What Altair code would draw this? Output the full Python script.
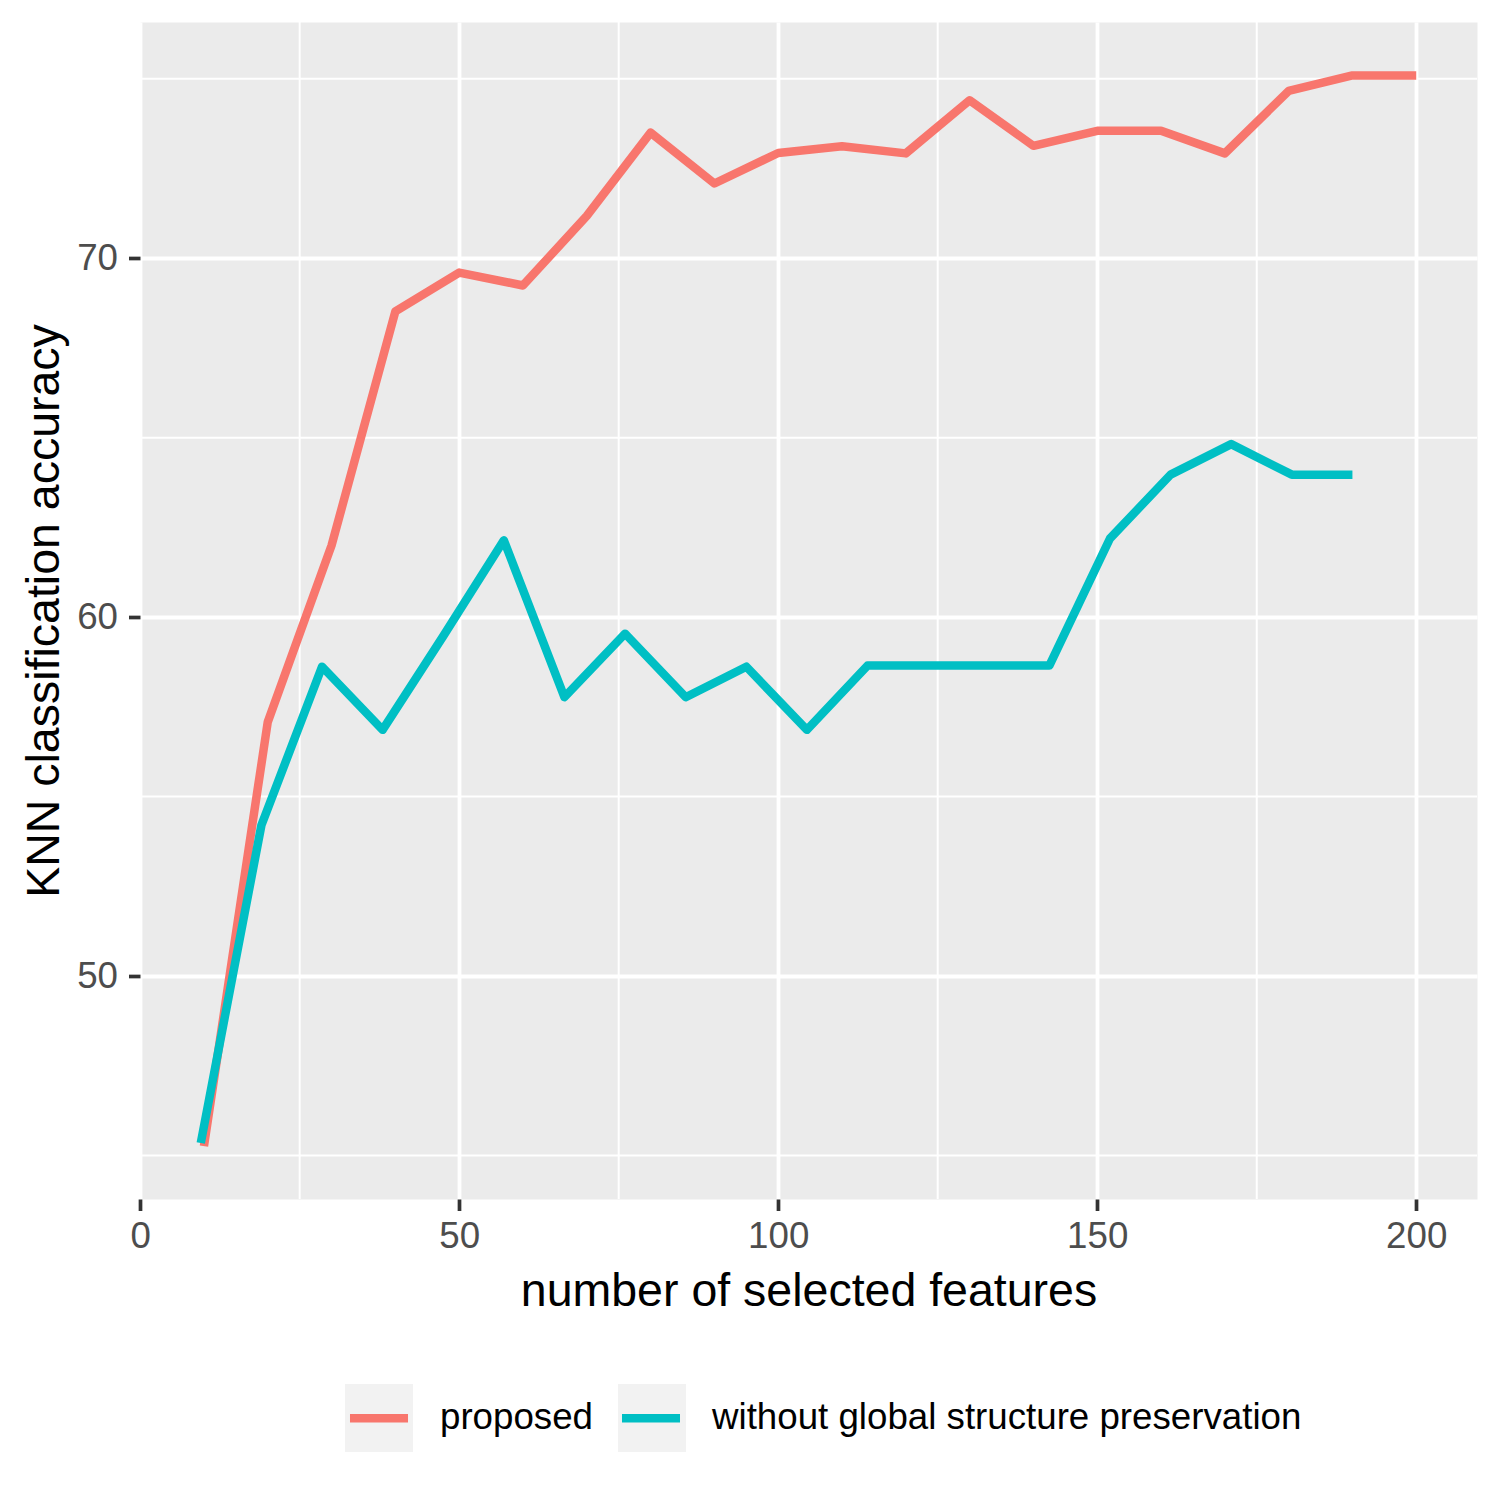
import altair as alt
import pandas as pd

# ---- data ----
series_names = ["proposed", "without global structure preservation"]

x_proposed = [10, 20, 30, 40, 50, 60, 70, 80, 90, 100, 110, 120, 130, 140, 150, 160, 170, 180, 190, 200]
y_proposed = [45.26, 57.08, 62.0, 68.52, 69.6, 69.24, 71.18, 73.5, 72.08, 72.93, 73.12, 72.92, 74.4,
              73.13, 73.55, 73.55, 72.92, 74.66, 75.09, 75.09]

x_without = [9.5, 19, 28.5, 38, 47.5, 57, 66.5, 76, 85.5, 95, 104.5, 114, 123.5, 133, 142.5, 152,
             161.5, 171, 180.5, 190]
y_without = [45.35, 54.2, 58.62, 56.86, 59.47, 62.14, 57.77, 59.54, 57.77, 58.62, 56.86, 58.65, 58.65,
             58.65, 58.65, 62.19, 63.97, 64.82, 63.97, 63.97]

x_major = [0, 50, 100, 150, 200]
y_major = [50, 60, 70]
x_minor = [25, 75, 125, 175]
y_minor = [45, 55, 65, 75]

colors = ["#F8766D", "#00BFC4"]

rows = []
for xv, yv in zip(x_proposed, y_proposed):
    rows.append({"x": xv, "y": yv, "series": series_names[0], "key": series_names[0]})
for xv, yv in zip(x_without, y_without):
    rows.append({"x": xv, "y": yv, "series": series_names[1], "key": series_names[1]})
df = pd.DataFrame(rows)

FONT = "Liberation Sans"

x_scale = alt.Scale(domain=[-0.025, 209.525], nice=False, zero=False)
y_scale = alt.Scale(domain=[43.79, 76.58], nice=False, zero=False)

x_axis = alt.Axis(
    values=x_major, title="number of selected features", grid=True, domain=False,
    labelFlush=False, labelOverlap=False,
    titleBaseline="alphabetic", titleY=106,
)
y_axis = alt.Axis(
    values=y_major, title="KNN classification accuracy", grid=True, domain=False,
    labelFlush=False, labelOverlap=False,
    titleBaseline="alphabetic", titleX=-82, titleY=588.5, titleAngle=270,
)

minor_x = alt.Chart(pd.DataFrame({"v": x_minor})).mark_rule(color="white", strokeWidth=2).encode(
    x=alt.X("v:Q", scale=x_scale, axis=x_axis)
)
minor_y = alt.Chart(pd.DataFrame({"v": y_minor})).mark_rule(color="white", strokeWidth=2).encode(
    y=alt.Y("v:Q", scale=y_scale, axis=y_axis)
)

# invisible layer whose legend draws the grey key backgrounds
keys_bg = alt.Chart(df).mark_point(filled=True, size=0, opacity=1).encode(
    x=alt.X("x:Q", scale=x_scale, axis=x_axis),
    y=alt.Y("y:Q", scale=y_scale, axis=y_axis),
    fill=alt.Fill(
        "key:N",
        scale=alt.Scale(range=["#F2F2F2", "#F2F2F2"]),
        legend=alt.Legend(
            title=None, orient="none", direction="horizontal", legendX=205, legendY=1362,
            symbolType="square", symbolSize=4624, symbolStrokeWidth=0, symbolOpacity=1,
            labelExpr="''", labelFont=FONT, labelFontSize=36.7, labelOffset=0,
            columnPadding=205, labelLimit=1000, padding=0,
        ),
    ),
)

lines = alt.Chart(df).mark_line(strokeWidth=8.5, strokeJoin="round", strokeCap="butt").encode(
    x=alt.X("x:Q", scale=x_scale, axis=x_axis),
    y=alt.Y("y:Q", scale=y_scale, axis=y_axis),
    stroke=alt.Stroke(
        "series:N",
        scale=alt.Scale(domain=series_names, range=colors),
        legend=alt.Legend(
            title=None, orient="none", direction="horizontal", legendX=205, legendY=1362,
            symbolType="M-0.975,0L0.975,0", symbolSize=3540, symbolStrokeWidth=8.5,
            labelColor="black", labelFont=FONT, labelFontSize=36.7, labelOffset=27,
            columnPadding=11, labelLimit=1000, padding=0,
        ),
    ),
    order=alt.Order("x:Q"),
)

chart = alt.layer(minor_x, minor_y, keys_bg, lines).properties(
    width=1337, height=1177,
    autosize=alt.AutoSizeParams(type="none"),
    padding={"left": 132, "top": 14, "right": 15, "bottom": 280},
).configure_view(
    fill="#EBEBEB", stroke="transparent"
).configure_axis(
    gridColor="white", gridWidth=3.8, gridOpacity=1,
    tickColor="#333333", tickSize=11.5, tickWidth=3.7,
    labelFont=FONT, labelFontSize=36.7, labelColor="#4D4D4D", labelPadding=8,
    titleFont=FONT, titleFontSize=46.5, titleColor="black", titleFontWeight="normal",
).configure_axisY(
    labelPadding=11
)

chart.save("out.html", embed_options={"renderer": "svg", "actions": False})
